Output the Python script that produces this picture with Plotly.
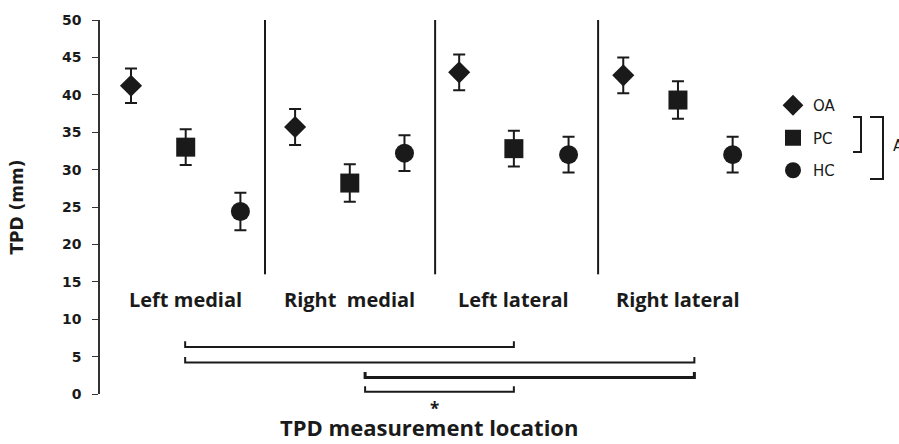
import plotly.graph_objects as go

# ---- data ----
locations = ["Left medial", "Right  medial", "Left lateral", "Right lateral"]
groups = ["OA", "PC", "HC"]
x_pos = {"OA": [1, 4, 7, 10], "PC": [2, 5, 8, 11], "HC": [3, 6, 9, 12]}
means = {
    "OA": [41.2, 35.7, 43.0, 42.6],
    "PC": [33.0, 28.2, 32.8, 39.3],
    "HC": [24.4, 32.2, 32.0, 32.0],
}
errs = {
    "OA": [2.3, 2.4, 2.4, 2.4],
    "PC": [2.4, 2.5, 2.4, 2.5],
    "HC": [2.5, 2.4, 2.4, 2.4],
}
symbols = {"OA": "diamond", "PC": "square", "HC": "circle"}
sizes = {"OA": 17, "PC": 19, "HC": 19}
label_x = [2, 5, 8, 11]
label_y = 12.7
separators_x = [3.45, 6.56, 9.54]
separator_y = [16, 50]
# significance brackets: (x start, x end, level)
brackets = [(1.99, 8.0, 6.3), (1.99, 11.3, 4.2), (5.28, 11.3, 2.2), (5.28, 8.0, 0.3)]
bracket_widths = [2, 2, 3, 2]
star_text = "*"
y_ticks = [0, 5, 10, 15, 20, 25, 30, 35, 40, 45, 50]

INK = "#1a1a1a"
fig = go.Figure()
for g in groups:
    fig.add_trace(go.Scatter(
        x=x_pos[g], y=means[g], mode="markers", name=g,
        marker=dict(symbol=symbols[g], size=sizes[g], color=INK, line=dict(width=0)),
        error_y=dict(type="data", array=errs[g], visible=True, color=INK, thickness=2, width=6),
        legendgroup=g,
    ))

# window pixel -> paper coordinates (plot area spans x 100..760, y 20..394)
def px2paper_x(px):
    return (px - 100) / 660
def px2paper_y(py):
    return (394 - py) / 374

shapes = []
for sx in separators_x:
    shapes.append(dict(type="line", xref="x", yref="y", x0=sx, x1=sx,
                       y0=separator_y[0], y1=separator_y[1], line=dict(color=INK, width=2)))
for (a, b, lvl), w in zip(brackets, bracket_widths):
    shapes.append(dict(type="path", xref="x", yref="y",
                       path=f"M {a},{lvl+0.75} L {a},{lvl} L {b},{lvl} L {b},{lvl+0.75}",
                       line=dict(color=INK, width=w)))
for (xl, xr, yt, yb) in [(853, 861, 117, 152), (870, 883, 117, 179)]:
    shapes.append(dict(type="path", xref="paper", yref="paper",
                       path=(f"M {px2paper_x(xl)},{px2paper_y(yt)} L {px2paper_x(xr)},{px2paper_y(yt)} "
                             f"L {px2paper_x(xr)},{px2paper_y(yb)} L {px2paper_x(xl)},{px2paper_y(yb)}"),
                       line=dict(color=INK, width=2)))

annotations = []
for lx, name in zip(label_x, locations):
    annotations.append(dict(x=lx, y=label_y, xref="x", yref="y", text=name,
                            showarrow=False, xanchor="center", yanchor="middle",
                            font=dict(family="Open Sans", size=20, color=INK, weight="bold")))
annotations.append(dict(x=px2paper_x(434), y=px2paper_y(408), xref="paper", yref="paper",
                        text=star_text, showarrow=False, xanchor="center", yanchor="middle",
                        font=dict(family="Open Sans", size=17, color=INK, weight="bold")))
annotations.append(dict(x=px2paper_x(429), y=px2paper_y(444), xref="paper", yref="paper",
                        text="TPD measurement location", showarrow=False,
                        xanchor="center", yanchor="bottom",
                        font=dict(family="Open Sans", size=22, color=INK, weight="bold")))
annotations.append(dict(x=px2paper_x(891), y=px2paper_y(146), xref="paper", yref="paper",
                        xanchor="left", yanchor="middle", text="A", showarrow=False,
                        font=dict(family="DejaVu Sans", size=15, color=INK)))

fig.update_layout(
    width=899, height=444,
    margin=dict(l=100, r=139, t=20, b=50, autoexpand=False),
    paper_bgcolor="white", plot_bgcolor="white",
    showlegend=True,
    legend=dict(x=px2paper_x(773), y=px2paper_y(89), xanchor="left", yanchor="top",
                font=dict(family="DejaVu Sans", size=15, color=INK),
                tracegroupgap=10, bgcolor="rgba(0,0,0,0)", itemwidth=30),
    xaxis=dict(range=[0.433, 12.5], visible=False),
    yaxis=dict(range=[0, 50], tickvals=y_ticks, showline=True, linecolor="#333", linewidth=1.5,
               ticks="outside", ticklen=6, tickcolor="#333", showgrid=False, zeroline=False,
               automargin=False,
               tickfont=dict(family="DejaVu Sans", size=14, color=INK, weight="bold"),
               ticklabelstandoff=8,
               title=dict(text="TPD (mm)",
                          font=dict(family="DejaVu Sans", size=17, color=INK, weight="bold"),
                          standoff=34)),
    shapes=shapes, annotations=annotations,
)
fig.write_html("out.html", config={"displayModeBar": False},
               post_script="document.body.style.margin='0';")
